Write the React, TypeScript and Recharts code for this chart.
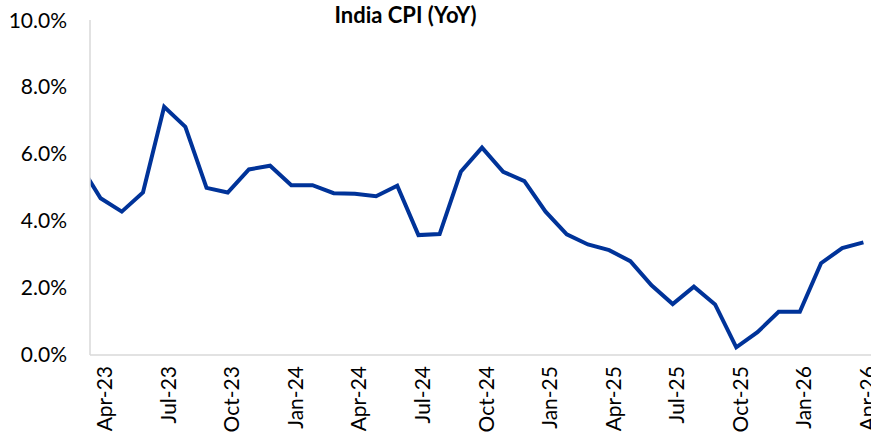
import { LineChart, Line, XAxis, YAxis, ReferenceLine } from "recharts";

// month index: 0 = Apr-23 ... 36 = Apr-26 (-1 = Mar-23, clipped at the axis)
const months = [
  "Mar-23", "Apr-23", "May-23", "Jun-23", "Jul-23", "Aug-23", "Sep-23", "Oct-23", "Nov-23", "Dec-23",
  "Jan-24", "Feb-24", "Mar-24", "Apr-24", "May-24", "Jun-24", "Jul-24", "Aug-24", "Sep-24", "Oct-24",
  "Nov-24", "Dec-24", "Jan-25", "Feb-25", "Mar-25", "Apr-25", "May-25", "Jun-25", "Jul-25", "Aug-25",
  "Sep-25", "Oct-25", "Nov-25", "Dec-25", "Jan-26", "Feb-26", "Mar-26", "Apr-26",
];

const cpi = [
  5.7, 4.68, 4.28, 4.85, 7.41, 6.81, 4.99, 4.85, 5.54, 5.65,
  5.07, 5.07, 4.83, 4.81, 4.74, 5.05, 3.58, 3.61, 5.47, 6.19,
  5.47, 5.19, 4.28, 3.6, 3.3, 3.13, 2.8, 2.08, 1.52, 2.04,
  1.51, 0.23, 0.68, 1.29, 1.29, 2.74, 3.19, 3.36,
];

const xTicks = [0, 3, 6, 9, 12, 15, 18, 21, 24, 27, 30, 33, 36];
const yTicks = [0, 2, 4, 6, 8, 10];

const data = months.map((m, i) => ({ idx: i - 1, label: m, cpi: cpi[i] }));

const FONT = "Lato, 'Open Sans', sans-serif";

const MonthTick = ({ x, y, payload }: any) => {
  const lbl = months[payload.value + 1];
  return (
    <text
      x={x}
      y={y}
      transform={`rotate(-90, ${x}, ${y})`}
      textAnchor="end"
      dominantBaseline="central"
      fontFamily={FONT}
      fontSize={21}
      fill="#000"
      dx={-3}
      dy={3}
    >
      {lbl}
    </text>
  );
};

export default function App() {
  return (
    <div
      style={{
        width: 871,
        height: 441,
        overflow: "hidden",
        position: "relative",
        background: "#fff",
        boxSizing: "border-box",
        padding: "8px 0 0 8px",
      }}
    >
      <style>{`body{margin:0}`}</style>
      <div
        style={{
          position: "absolute",
          left: 8,
          width: 795,
          top: 1,
          textAlign: "center",
          fontFamily: FONT,
          fontWeight: 700,
          fontSize: 22,
          color: "#000",
        }}
      >
        India CPI (YoY)
      </div>
      <LineChart
        width={870}
        height={433}
        data={data}
        margin={{ top: 12, right: 4, bottom: 0, left: 0 }}
      >
        <XAxis
          type="number"
          dataKey="idx"
          domain={[-0.5, 36.5]}
          allowDataOverflow
          ticks={xTicks}
          interval={0}
          height={86}
          axisLine={false}
          tickLine={false}
          tick={<MonthTick />}
        />
        <YAxis
          type="number"
          domain={[0, 10]}
          ticks={yTicks}
          width={82}
          axisLine={{ stroke: "#d9d9d9", strokeWidth: 1.5 }}
          tickLine={false}
          tickSize={0}
          tickMargin={23}
          tickFormatter={(v: number) => `${v.toFixed(1)}%`}
          tick={{ fontFamily: FONT, fontSize: 21, fill: "#000" }}
        />
        <ReferenceLine y={0} stroke="#d9d9d9" strokeWidth={1.5} />
        <Line
          type="linear"
          dataKey="cpi"
          stroke="#003399"
          strokeWidth={4}
          dot={false}
          isAnimationActive={false}
        />
      </LineChart>
    </div>
  );
}
